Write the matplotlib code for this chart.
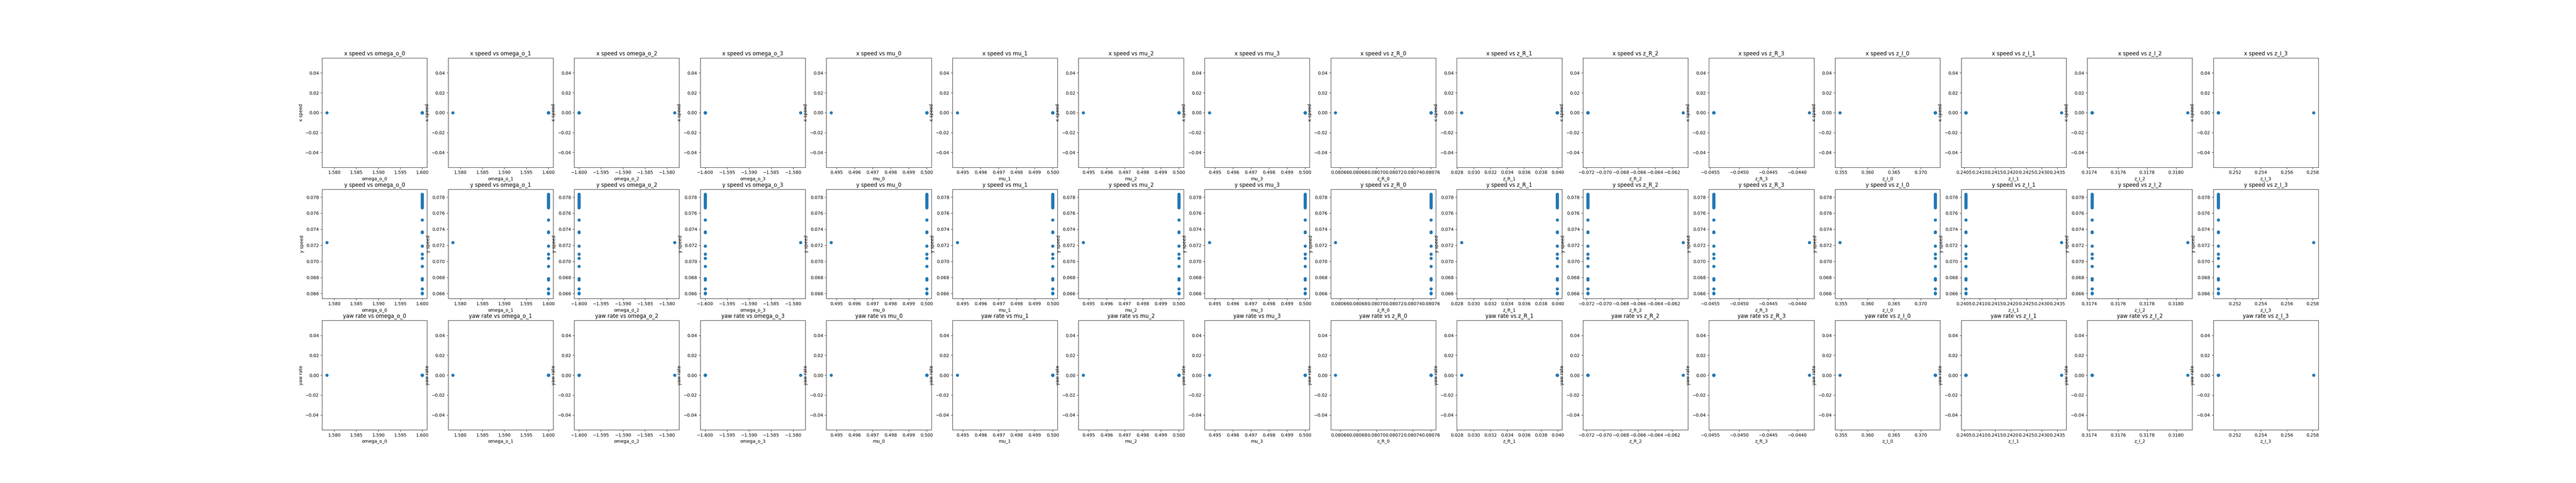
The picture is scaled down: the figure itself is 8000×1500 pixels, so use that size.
import matplotlib
matplotlib.use("Agg")
import matplotlib.pyplot as plt

# Parameter names (x variables) and output names (y variables)
param_names = ["omega_o_0", "omega_o_1", "omega_o_2", "omega_o_3",
               "mu_0", "mu_1", "mu_2", "mu_3",
               "z_R_0", "z_R_1", "z_R_2", "z_R_3",
               "z_I_0", "z_I_1", "z_I_2", "z_I_3"]
output_names = ["x speed", "y speed", "yaw rate"]

# Parameter values of the single baseline sample
baseline_params = [1.5783, 1.5783, -1.5783, -1.5783,
                   0.4947, 0.4947, 0.4947, 0.4947,
                   0.080655, 0.02855, -0.06073, -0.04379,
                   0.35475, 0.24363, 0.31808, 0.25808]
# Parameter values shared by all other samples
variant_params = [1.600, 1.600, -1.600, -1.600,
                  0.500, 0.500, 0.500, 0.500,
                  0.08076, 0.03992, -0.07188, -0.04544,
                  0.37279, 0.24056, 0.31742, 0.2507]

# y speed of the baseline sample and of the variant samples
y_speed_baseline = 0.07236
y_speed_variants = [0.07836, 0.07828, 0.07820, 0.07812, 0.07804, 0.07796,
                    0.07788, 0.07780, 0.07772, 0.07764, 0.07756, 0.07748,
                    0.07740, 0.07732, 0.07724, 0.07716, 0.07708, 0.07700,
                    0.07692, 0.07684, 0.07676, 0.07666,
                    0.07514, 0.07368, 0.07358, 0.07192, 0.07091, 0.07039,
                    0.06938, 0.06785, 0.06770, 0.06656, 0.06604, 0.06598]
# x speed and yaw rate are zero for every sample
x_speed_value = 0.0
yaw_rate_value = 0.0

n_var = len(y_speed_variants)
outputs = {
    "x speed": [x_speed_value] * (n_var + 1),
    "y speed": [y_speed_baseline] + y_speed_variants,
    "yaw rate": [yaw_rate_value] * (n_var + 1),
}

fig, axes = plt.subplots(3, 16, figsize=(80, 15), dpi=100)
for r, out in enumerate(output_names):
    for c, p in enumerate(param_names):
        ax = axes[r, c]
        xs = [baseline_params[c]] + [variant_params[c]] * n_var
        ax.scatter(xs, outputs[out])
        ax.set_title(f"{out} vs {p}")
        ax.set_xlabel(p)
        ax.set_ylabel(out)

fig.savefig("out.png", dpi=100)
